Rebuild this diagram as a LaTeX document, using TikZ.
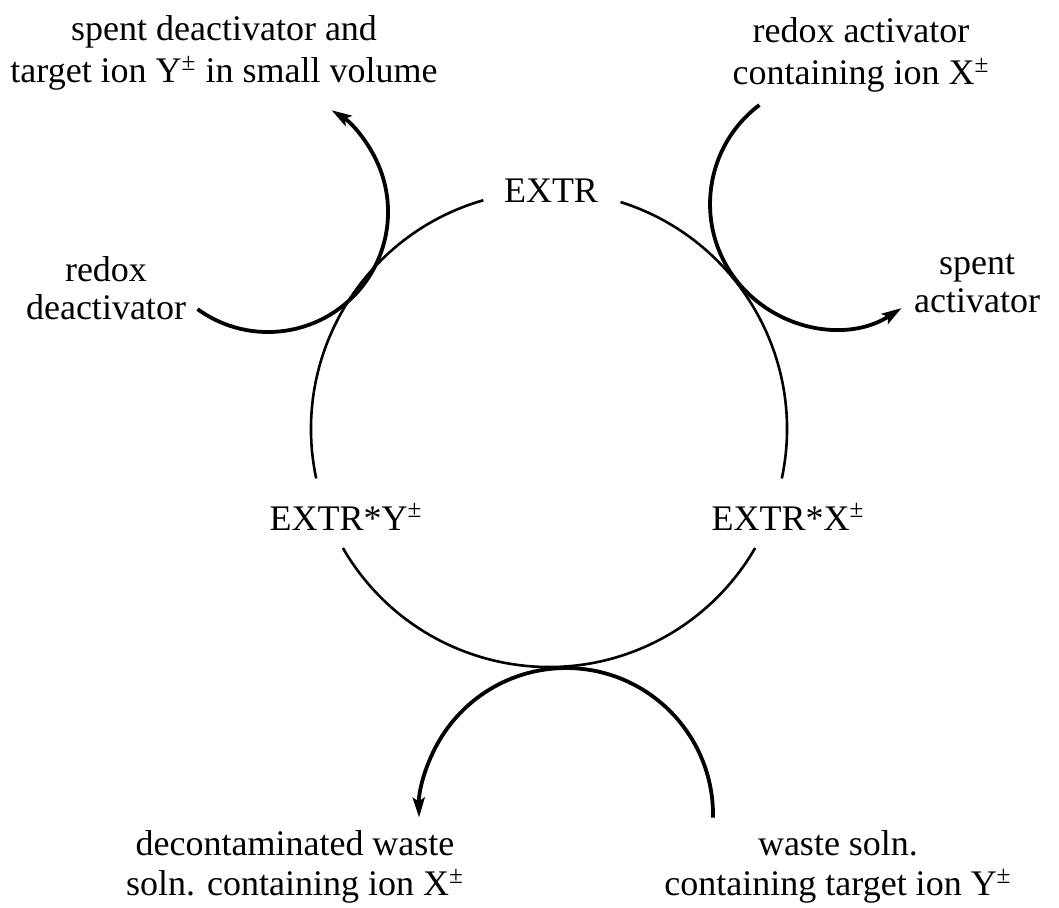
\documentclass[tikz,border=0pt]{standalone}
\usepackage{fontspec}
\setmainfont{Liberation Serif}
\usetikzlibrary{arrows.meta}

\begin{document}
\begin{tikzpicture}[x=0.5pt,y=0.5pt,
  lbl/.style={align=center, inner sep=0pt, font=\fontsize{18}{21}\selectfont},
  ring/.style={line width=1.3pt},
  flow/.style={line width=1.9pt},
  tip/.style={-{Stealth[length=10pt,width=6pt,inset=2pt]}}]
\useasboundingbox (0,0) rectangle (1059,-908);

% labels
\node[lbl] (sdeact) at (224,-53) {spent deactivator and\\target ion Y\textsuperscript{±} in small volume};
\node[lbl] (deact) at (106,-288) {redox\\[-2pt]deactivator};
\node[lbl] (act) at (861,-55) {redox activator\\containing ion X\textsuperscript{±}};
\node[lbl] (sact) at (977,-284) {spent\\[-2pt]activator};
\node[lbl] (extr) at (551,-191) {EXTR};
\node[lbl] (extry) at (346,-517) {EXTR*Y\textsuperscript{±}};
\node[lbl] (extrx) at (788,-517) {EXTR*X\textsuperscript{±}};
\node[lbl] (dwaste) at (295,-867) {decontaminated waste\\[-1pt]soln. containing ion X\textsuperscript{±}};
\node[lbl] (waste) at (838,-867) {waste soln.\\[-1pt]containing target ion Y\textsuperscript{±}};

% the extractant cycle
\coordinate (ctr) at (549,-429);
\draw[ring] (ctr) ++(106:238) arc[start angle=106, end angle=192, radius=238];
\draw[ring] (ctr) ++(210:238) arc[start angle=210, end angle=330, radius=238];
\draw[ring] (ctr) ++(348:238) arc[start angle=348, end angle=432.5, radius=238];

% streams in and out
\coordinate (deactin) at (197.5,-309.1);
\coordinate (actin) at (759.4,-105);
\coordinate (wastein) at (713,-817.6);
\draw[flow,tip] (deactin) arc[start angle=234, end angle=418, radius=120];
\draw[flow,tip] (actin) arc[start angle=127, end angle=303, radius=124];
\draw[flow,tip] (wastein) arc[start angle=-1, end angle=181, radius=147];
\end{tikzpicture}
\end{document}
